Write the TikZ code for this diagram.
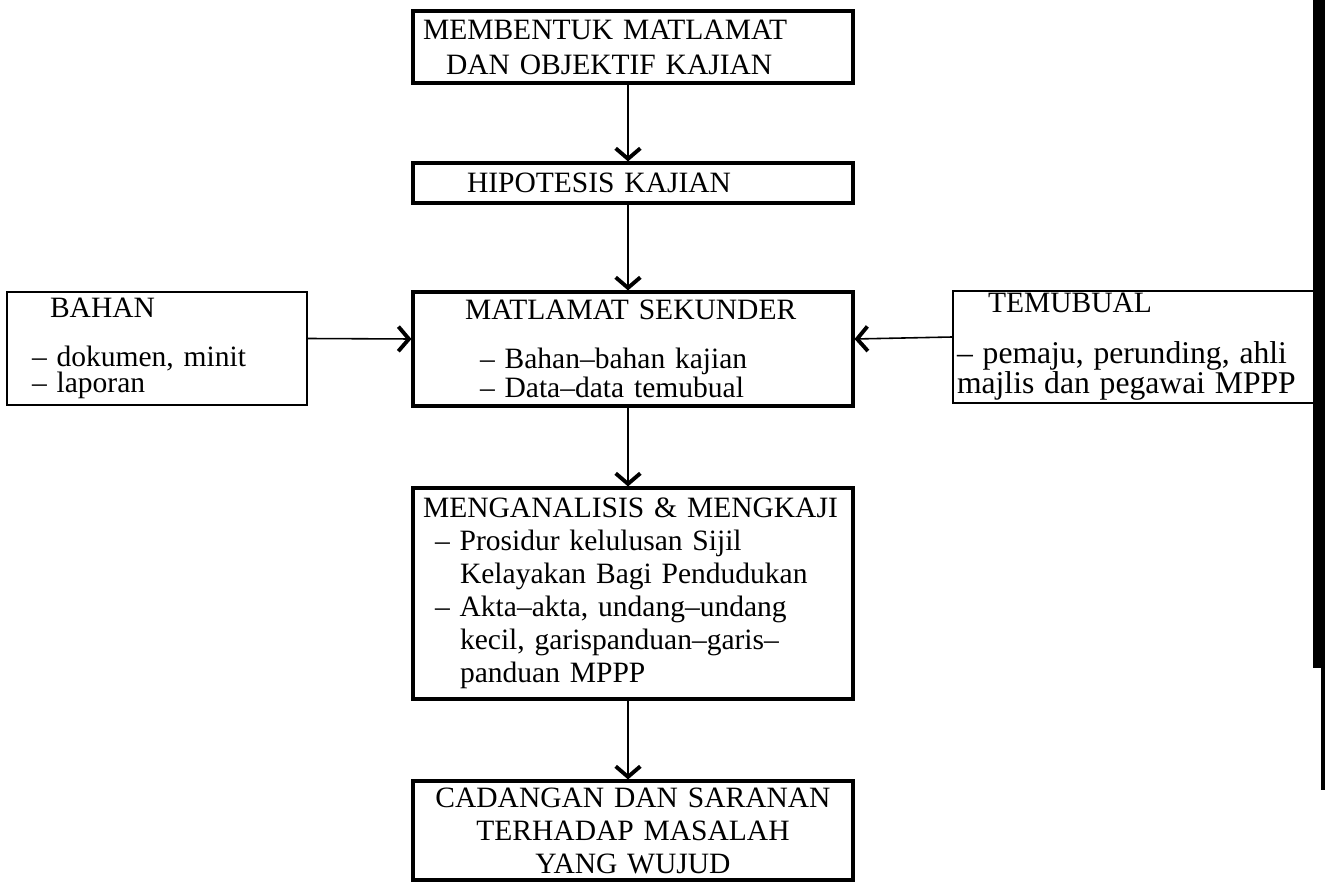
\documentclass[tikz,border=0pt]{standalone}
\usepackage{fontspec}
\setmainfont{Liberation Serif}
\usetikzlibrary{arrows.meta}
\lineskiplimit=-20pt

\begin{document}
\begin{tikzpicture}[x=0.02cm,y=-0.02cm,
    >={Straight Barb[length=6pt,width=14pt,line width=2.2pt]},
    thickbox/.style={draw,line width=1.8pt,inner xsep=0.2cm,inner ysep=0pt,
        font=\fontsize{16.8}{19}\selectfont},
    thinbox/.style={draw,line width=0.9pt,inner xsep=0.2cm,inner ysep=0pt,
        align=left,font=\fontsize{16.8}{14.2}\selectfont},
    link/.style={->,line width=0.9pt}]
    \useasboundingbox (0,0) rectangle (1325,884);
    % Main column
    \node[thickbox,align=left,text width=8.4cm,minimum width=8.8cm,minimum height=1.44cm]
        (tujuan) at (633,47)
        {MEMBENTUK MATLAMAT\\[1pt]\hspace*{0.46cm}DAN OBJEKTIF KAJIAN};
    \node[thickbox,align=left,text width=8.4cm,minimum width=8.8cm,minimum height=0.8cm]
        (hipotesis) at (633,183)
        {\hspace*{0.88cm}HIPOTESIS KAJIAN};
    \node[thickbox,align=left,text width=8.4cm,minimum width=8.8cm,minimum height=2.28cm,
        font=\fontsize{16.8}{14.2}\selectfont]
        (sekunder) at (633,349)
        {\hspace*{0.84cm}MATLAMAT SEKUNDER\\[13.7pt]
         \hspace*{1.14cm}– Bahan–bahan kajian\\
         \hspace*{1.14cm}– Data–data temubual};
    \node[thickbox,align=left,text width=8.4cm,minimum width=8.8cm,minimum height=4.22cm,
        font=\fontsize{16.8}{18.8}\selectfont]
        (analisis) at (633,593.5)
        {MENGANALISIS \& MENGKAJI\\
         \hspace*{0.24cm}– Prosidur kelulusan Sijil\\
         \hspace*{0.74cm}Kelayakan Bagi Pendudukan\\
         \hspace*{0.24cm}– Akta–akta, undang–undang\\
         \hspace*{0.74cm}kecil, garispanduan–garis–\\
         \hspace*{0.74cm}panduan MPPP};
    \node[thickbox,align=center,text width=8.4cm,minimum width=8.8cm,minimum height=1.98cm,
        font=\fontsize{16.8}{18.8}\selectfont]
        (cadangan) at (633,830.5)
        {CADANGAN DAN SARANAN\\TERHADAP MASALAH\\YANG WUJUD};
    % Side boxes
    \node[thinbox,text width=5.6cm,minimum width=6cm,minimum height=2.26cm]
        (bahan) at (157,348.5)
        {\hspace*{0.66cm}BAHAN\\[13.7pt]
         \hspace*{0.3cm}– dokumen, minit\\
         \hspace*{0.3cm}– laporan};
    \node[thinbox,inner xsep=0.08cm,text width=7.14cm,minimum width=7.3cm,minimum height=2.24cm]
        (temubual) at (1135.5,347)
        {\hspace*{0.62cm}TEMUBUAL\\[14.5pt]
         {\fontsize{18}{14.6}\selectfont – pemaju, perunding, ahli}\\
         {\fontsize{18}{14.6}\selectfont majlis dan pegawai MPPP}};
    % Edge of the scan
    \fill (1313,0) rectangle (1325,668);
    \fill (1321,668) rectangle (1325,790);
    % Arrows
    \draw[link] ([xshift=-0.1cm]tujuan.south) -- ([xshift=-0.1cm]hipotesis.north);
    \draw[link] ([xshift=-0.1cm]hipotesis.south) -- ([xshift=-0.1cm]sekunder.north);
    \draw[link] ([xshift=-0.1cm]sekunder.south) -- ([xshift=-0.1cm]analisis.north);
    \draw[link] ([xshift=-0.1cm]analisis.south) -- ([xshift=-0.1cm]cadangan.north);
    \draw[link] ([yshift=0.2cm]bahan.east) -- ([yshift=0.2cm]sekunder.west);
    \draw[link] ([yshift=0.2cm]temubual.west) -- ([yshift=0.2cm]sekunder.east);
\end{tikzpicture}
\end{document}
